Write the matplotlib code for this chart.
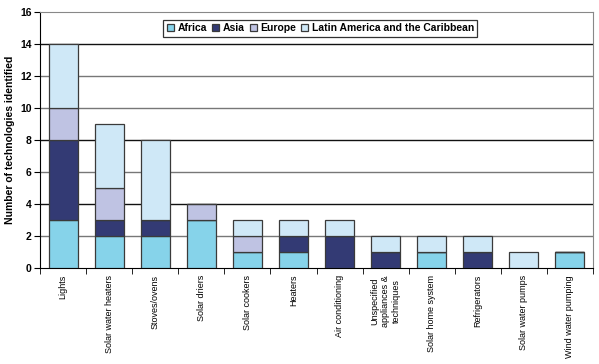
import matplotlib
matplotlib.use("Agg")
import matplotlib.pyplot as plt
import numpy as np

plt.rcParams['font.family'] = ['Liberation Sans', 'DejaVu Sans']

categories = ["Lights", "Solar water heaters", "Stoves/ovens", "Solar driers",
              "Solar cookers", "Heaters", "Air conditioning",
              "Unspecified\nappliances &\ntechniques", "Solar home system",
              "Refrigerators", "Solar water pumps", "Wind water pumping"]
africa = [3, 2, 2, 3, 1, 1, 0, 0, 1, 0, 0, 1]
asia = [5, 1, 1, 0, 0, 1, 2, 1, 0, 1, 0, 0]
europe = [2, 2, 0, 1, 1, 0, 0, 0, 0, 0, 0, 0]
latam = [4, 4, 5, 0, 1, 1, 1, 1, 1, 1, 1, 0]
series_names = ["Africa", "Asia", "Europe", "Latin America and the Caribbean"]
colors = ["#86D3EA", "#333A74", "#BFC3E3", "#CFE8F7"]
yticks = [0, 2, 4, 6, 8, 10, 12, 14, 16]

fig = plt.figure(figsize=(5.99, 3.64), dpi=100)
ax = fig.add_axes([40/599, 96/364, 553/599, 256/364])

x = np.arange(len(categories))
bottom = np.zeros(len(categories))
for name, vals, c in zip(series_names, [africa, asia, europe, latam], colors):
    v = np.array(vals, dtype=float)
    ax.bar(x, v, bottom=bottom, width=0.63, color=c, edgecolor="#3a3a3a",
           linewidth=0.9, label=name, zorder=3)
    bottom += v

ax.set_xlim(-0.5, len(categories) - 0.5)
ax.set_ylim(0, 16)
ax.set_yticks(yticks)
for t in yticks[1:-1]:
    col = "#111111" if t in (4, 8, 14) else "#777777"
    ax.axhline(t, color=col, linewidth=1.0, zorder=1)

ax.set_xticks(x)
ax.set_xticklabels(categories, rotation=90, fontsize=6.5, ha="center",
                   va="top", multialignment="center")
ax.tick_params(axis="x", length=0, pad=5)
ax.set_xticks(np.arange(-0.5, len(categories), 1.0), minor=True)
ax.tick_params(axis="x", which="minor", length=4, direction="out", color="black")
ax.tick_params(axis="y", length=4, direction="out", labelsize=7.5, pad=2)
for lbl in ax.get_yticklabels():
    lbl.set_fontweight("bold")

ax.set_ylabel("Number of technologies identified", fontsize=7.5,
              fontweight="bold", labelpad=4)

ax.spines["left"].set_color("black")
ax.spines["bottom"].set_color("black")
ax.spines["top"].set_color("#888888")
ax.spines["right"].set_color("#888888")

leg = ax.legend(loc="upper center", bbox_to_anchor=(0.507, 0.99), ncol=4,
                frameon=True, fancybox=False, edgecolor="black",
                handlelength=0.7, handleheight=0.7, handletextpad=0.3,
                columnspacing=0.5, borderpad=0.35, prop={"weight": "bold", "size": 7.5})
leg.get_frame().set_linewidth(0.9)

fig.savefig("out.png", dpi=100)
